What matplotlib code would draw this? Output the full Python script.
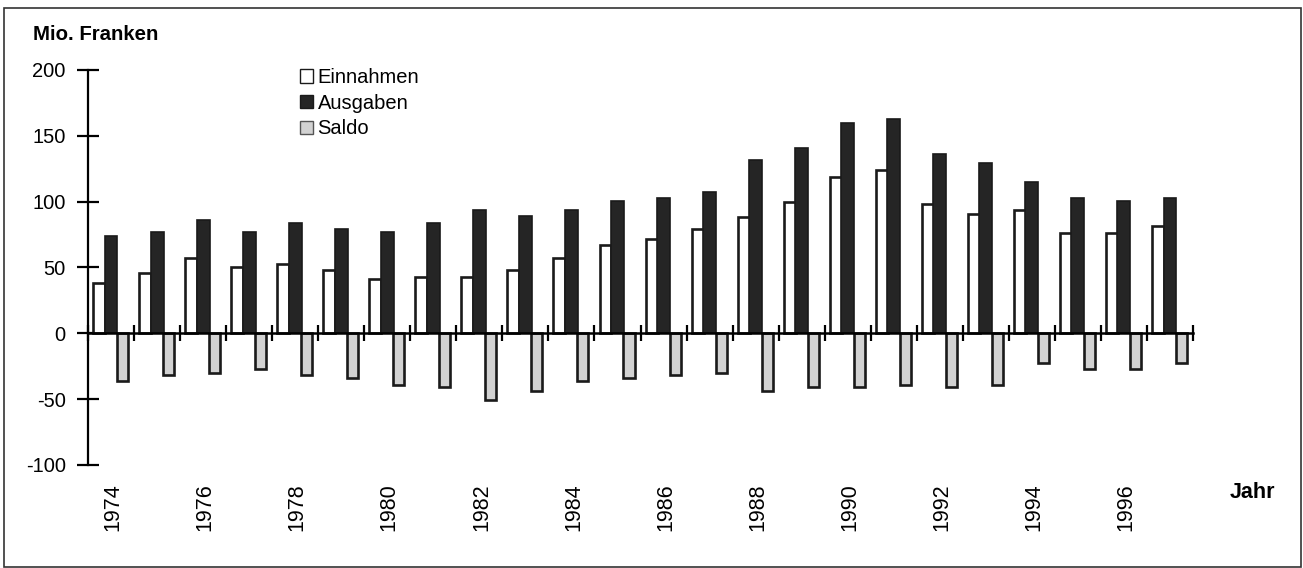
import matplotlib
matplotlib.use('Agg')
import matplotlib.pyplot as plt
from matplotlib.patches import Patch, Rectangle
import numpy as np

plt.rcParams['font.family'] = ['Liberation Sans', 'DejaVu Sans']

# data (Mio. Franken)
years = list(range(1974, 1998))
einnahmen = [38, 45.5, 57.5, 50.5, 52.5, 48, 41, 43, 43, 48, 57.5, 67,
             71.5, 79, 88.5, 100, 119, 124, 98, 91, 93.5, 76.5, 76.5, 81.5]
ausgaben = [74, 77, 86, 77, 84, 79, 77, 84, 93.5, 89, 93.5, 100.5,
            103, 107.5, 132, 141, 160, 162.5, 136, 129, 115, 103, 100.5, 103]
saldo = [-36.5, -31.5, -30, -27, -32, -34, -39, -41, -51, -44, -36.5, -34,
         -31.5, -30, -44, -41, -41, -39, -41, -39, -22.5, -27, -27, -22.5]
yticks = [-100, -50, 0, 50, 100, 150, 200]

W, H = 1303, 568
fig = plt.figure(figsize=(W / 100, H / 100), dpi=100)
ax = fig.add_axes([88 / W, 1 - 465 / H, 1105 / W, 395 / H])

x = np.arange(len(years))
bw = 0.26
ax.bar(x - 0.26, einnahmen, bw, color='white', edgecolor='#1a1a1a', linewidth=1.9, zorder=2)
ax.bar(x, ausgaben, bw + 0.02, color='#252525', edgecolor='#1a1a1a', linewidth=1.2, zorder=2)
ax.bar(x + 0.25, saldo, bw - 0.02, color='#d2d2d2', edgecolor='#1a1a1a', linewidth=1.9, zorder=2)

ax.set_xlim(-0.5, len(years) - 0.5)
ax.set_ylim(-100, 200)

for s in ['top', 'right']:
    ax.spines[s].set_visible(False)
ax.spines['bottom'].set_position(('data', 0))
ax.spines['bottom'].set_linewidth(1.8)
ax.spines['bottom'].set_zorder(3)
ax.spines['left'].set_linewidth(1.6)

ax.set_yticks(yticks)
ax.set_yticklabels([str(v) for v in yticks])
ax.tick_params(axis='y', direction='inout', length=16, width=1.6, labelsize=14.5, pad=8)

ax.set_xticks(np.arange(-0.5, len(years), 1.0))
ax.set_xticklabels([])
ax.tick_params(axis='x', direction='inout', length=11, width=1.6)

for i, yr in enumerate(years):
    if yr % 2 == 0:
        ax.annotate(str(yr), (i, -100), xytext=(1.5, -13), textcoords='offset points',
                    rotation=90, ha='center', va='top', fontsize=15.5)

handles = [Patch(facecolor='white', edgecolor='#1a1a1a', linewidth=1.0),
           Patch(facecolor='#252525', edgecolor='#1a1a1a', linewidth=1.0),
           Patch(facecolor='#d2d2d2', edgecolor='#555555', linewidth=1.0)]
fig.legend(handles, ['Einnahmen', 'Ausgaben', 'Saldo'], loc='upper left',
           bbox_to_anchor=(286 / W, 1 - 54 / H), frameon=False, fontsize=14.5,
           handlelength=0.62, handleheight=0.62, handletextpad=0.25,
           labelspacing=0.33, borderpad=0.2)

fig.text(33 / W, 1 - 35 / H, 'Mio. Franken', fontsize=14.7, fontweight='bold', va='center')
fig.text(1230 / W, 1 - 493 / H, 'Jahr', fontsize=15.5, fontweight='bold', va='center')

fig.patches.append(Rectangle((4 / W, 1 / H), 1297 / W, 559 / H, transform=fig.transFigure,
                             fill=False, edgecolor='#333333', linewidth=1.2))

fig.savefig('out.png', dpi=100)
